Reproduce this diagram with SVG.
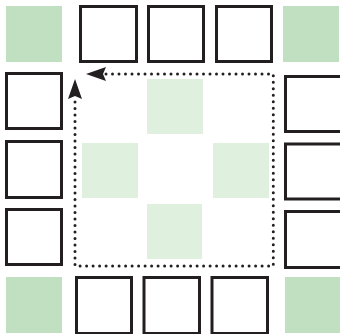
<svg xmlns="http://www.w3.org/2000/svg" width="340" height="334" viewBox="0 0 340 334">
<defs>
<style>
.box{fill:#fff;stroke:#231f20;stroke-width:3}
.corner{fill:#c1e0c1}
.inner{fill:#dff0df}
.dot{fill:none;stroke:#231f20;stroke-width:3;stroke-linecap:round;stroke-dasharray:0 6.5}
</style>
<marker id="ah" viewBox="0 0 20 14" refX="0" refY="7" markerWidth="20" markerHeight="14" markerUnits="userSpaceOnUse" orient="auto-start-reverse">
<path d="M0,0 L20,7 L0,14 L3,7 Z" fill="#231f20"/>
</marker>
</defs>
<g id="corners">
<rect id="c-tl" class="corner" x="6" y="6" width="56" height="56"/>
<rect id="c-tr" class="corner" x="283" y="6" width="56" height="56"/>
<rect id="c-bl" class="corner" x="6" y="277" width="56" height="56"/>
<rect id="c-br" class="corner" x="285" y="277" width="55" height="56"/>
</g>
<g id="inner">
<rect id="i-top" class="inner" x="147" y="79" width="56" height="55"/>
<rect id="i-left" class="inner" x="82" y="143" width="56" height="55"/>
<rect id="i-right" class="inner" x="213" y="143" width="56" height="55"/>
<rect id="i-bottom" class="inner" x="147" y="204" width="55" height="55"/>
</g>
<g id="top">
<g id="t1"><rect class="box" x="80.5" y="6.5" width="56" height="55"/></g>
<g id="t2"><rect class="box" x="148.5" y="6.5" width="55" height="55"/></g>
<g id="t3"><rect class="box" x="216.5" y="6.5" width="55" height="55"/></g>
</g>
<g id="left">
<g id="l1"><rect class="box" x="6.5" y="73.5" width="55" height="55"/></g>
<g id="l2"><rect class="box" x="6.5" y="141.5" width="55" height="56"/></g>
<g id="l3"><rect class="box" x="6.5" y="209.5" width="55" height="55"/></g>
</g>
<g id="right">
<g id="r1"><rect class="box" x="285.5" y="76.5" width="56" height="55"/></g>
<g id="r2"><rect class="box" x="285.5" y="144" width="56" height="55"/></g>
<g id="r3"><rect class="box" x="285.5" y="211.5" width="56" height="56"/></g>
</g>
<g id="bottom">
<g id="b1"><rect class="box" x="76.5" y="277.5" width="55" height="56"/></g>
<g id="b2"><rect class="box" x="144" y="277.5" width="55.5" height="56"/></g>
<g id="b3"><rect class="box" x="212" y="277.5" width="55.5" height="56"/></g>
</g>
<g id="connectors">
<path class="dot" d="M106,74 L273.3,74 L273.3,266 L75,266 L75,99" marker-start="url(#ah)" marker-end="url(#ah)"/>
</g>
</svg>
